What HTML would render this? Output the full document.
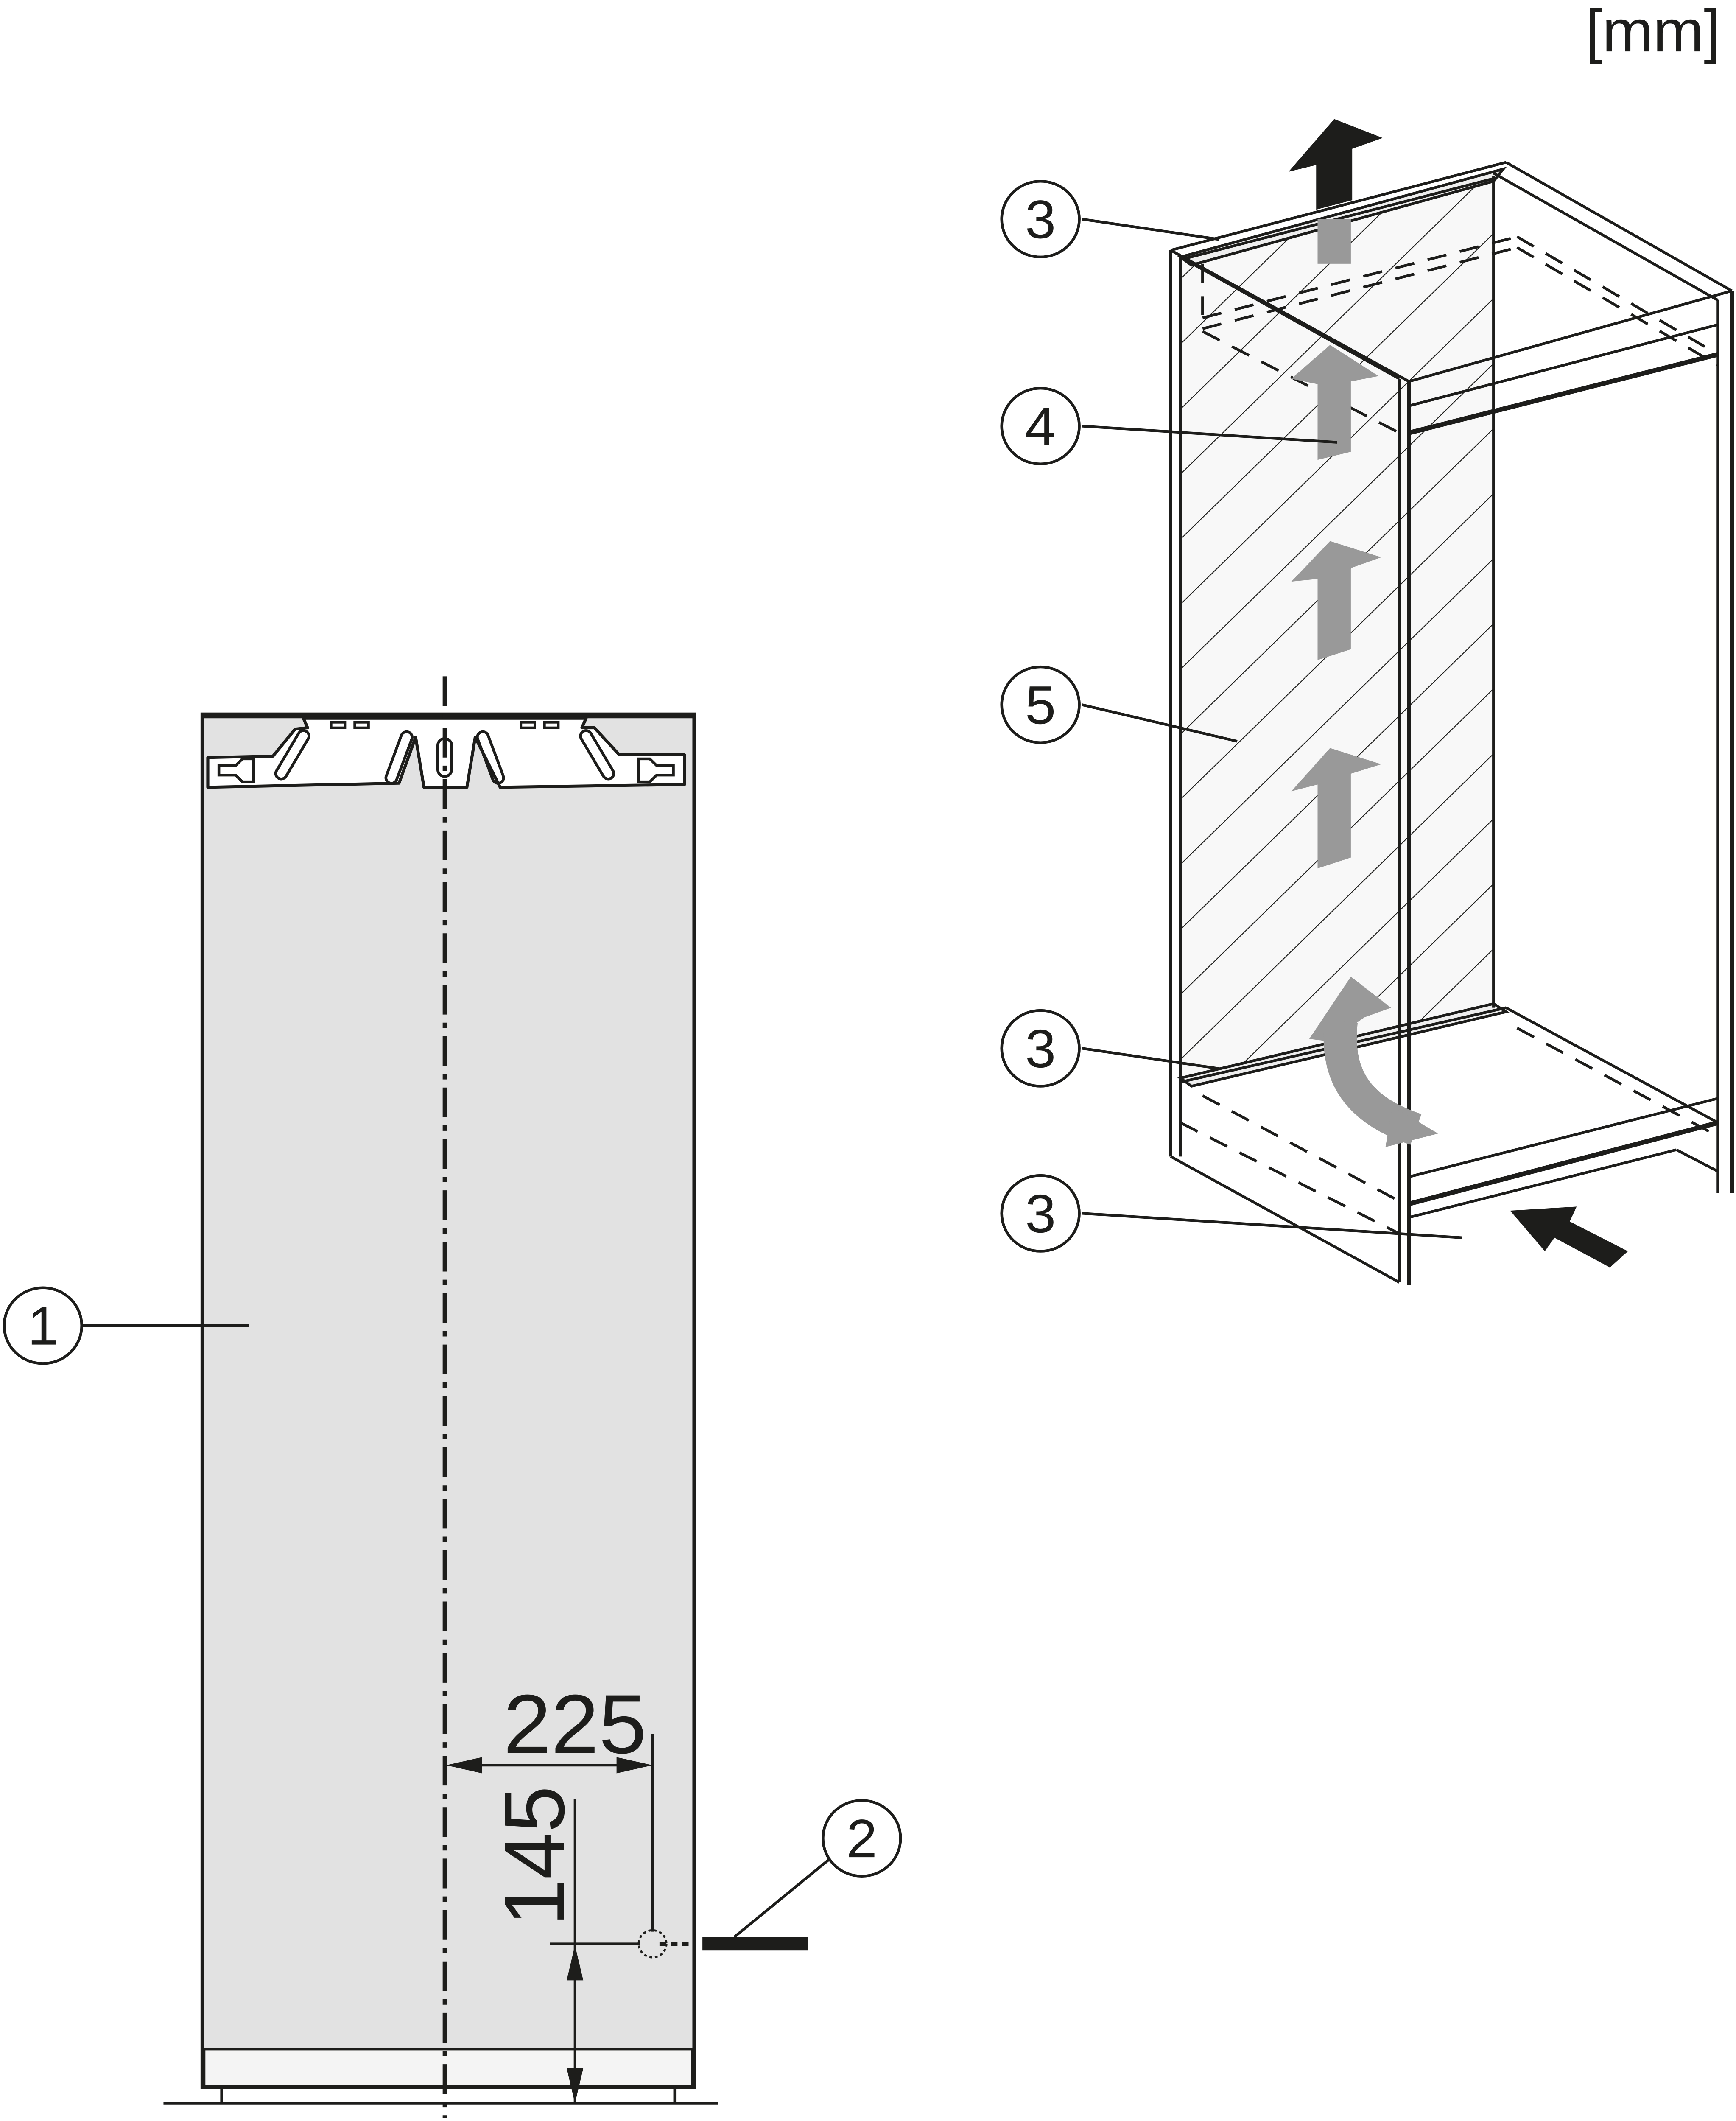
<!DOCTYPE html>
<html><head><meta charset="utf-8"><style>html,body{margin:0;padding:0;background:#fff;width:100vw;height:100vh;overflow:hidden}svg{display:block;position:absolute;left:0;top:0;width:100vw;height:100vh}</style></head><body>
<svg viewBox="0 0 1253 1568" preserveAspectRatio="none" xmlns="http://www.w3.org/2000/svg" font-family="Liberation Sans, sans-serif">
<defs>
<pattern id="h" patternUnits="userSpaceOnUse" width="34" height="34" patternTransform="rotate(45)">
<line x1="0" y1="0" x2="0" y2="34" stroke="#1d1d1b" stroke-width="1.3"/>
</pattern>
<clipPath id="hc"><polygon points="852,195 1078,130 1078,745 852,800"/></clipPath>
</defs>
<text x="1242" y="38" font-size="44" text-anchor="end" fill="#1d1d1b">[mm]</text>

<rect x="146" y="528" width="355" height="1015" fill="#e2e2e2" stroke="#1d1d1b" stroke-width="2.5"/>
<line x1="146" y1="529" x2="501" y2="529" stroke="#1d1d1b" stroke-width="4"/>
<rect x="147.5" y="1515" width="352" height="27" fill="#f4f4f4" stroke="#1d1d1b" stroke-width="1.5"/>
<line x1="118" y1="1555" x2="518" y2="1555" stroke="#1d1d1b" stroke-width="2"/>
<line x1="160" y1="1543" x2="160" y2="1555" stroke="#1d1d1b" stroke-width="2"/>
<line x1="487" y1="1543" x2="487" y2="1555" stroke="#1d1d1b" stroke-width="2"/>
<polygon points="150,560 197,559 213,539 222,538 219,531 423,531 420,538 429,538 447,558 494,558 494,580 361,582 343,545 337,582 306,582 300,545 288,579 150,582" fill="#fff" stroke="#1d1d1b" stroke-width="2.2" stroke-linejoin="round"/>
<path d="M158,566 h12 l5,-5 h8 v17 h-8 l-5,-5 h-12 z" fill="none" stroke="#1d1d1b" stroke-width="2"/>
<path d="M486,566 h-12 l-5,-5 h-8 v17 h8 l5,-5 h12 z" fill="none" stroke="#1d1d1b" stroke-width="2"/>
<rect x="207" y="538" width="8" height="40" rx="4" transform="rotate(30 211 558)" fill="none" stroke="#1d1d1b" stroke-width="2"/>
<rect x="284" y="540" width="8" height="40" rx="4" transform="rotate(20 288 560)" fill="none" stroke="#1d1d1b" stroke-width="2"/>
<rect x="350" y="540" width="8" height="40" rx="4" transform="rotate(-20 354 560)" fill="none" stroke="#1d1d1b" stroke-width="2"/>
<rect x="427" y="538" width="8" height="40" rx="4" transform="rotate(-30 431 558)" fill="none" stroke="#1d1d1b" stroke-width="2"/>
<rect x="316" y="546" width="10" height="28" rx="5" fill="none" stroke="#1d1d1b" stroke-width="2"/>
<rect x="239" y="534" width="10" height="4" fill="none" stroke="#1d1d1b" stroke-width="1.8"/>
<rect x="256" y="534" width="10" height="4" fill="none" stroke="#1d1d1b" stroke-width="1.8"/>
<rect x="376" y="534" width="10" height="4" fill="none" stroke="#1d1d1b" stroke-width="1.8"/>
<rect x="393" y="534" width="10" height="4" fill="none" stroke="#1d1d1b" stroke-width="1.8"/>
<line x1="321" y1="500" x2="321" y2="1566" stroke="#1d1d1b" stroke-width="3" stroke-dasharray="22,6,4,6"/>
<line x1="471" y1="1282" x2="471" y2="1428" stroke="#1d1d1b" stroke-width="1.8"/>
<line x1="330" y1="1305" x2="462" y2="1305" stroke="#1d1d1b" stroke-width="1.8"/>
<polygon points="322,1305 348,1299 348,1311" fill="#1d1d1b"/>
<polygon points="471,1305 445,1299 445,1311" fill="#1d1d1b"/>
<text x="415" y="1296" font-size="62" text-anchor="middle" fill="#1d1d1b">225</text>
<line x1="397" y1="1437" x2="462" y2="1437" stroke="#1d1d1b" stroke-width="1.8"/>
<line x1="415" y1="1330" x2="415" y2="1555" stroke="#1d1d1b" stroke-width="1.8"/>
<polygon points="415,1438 409,1464 421,1464" fill="#1d1d1b"/>
<polygon points="415,1555 409,1529 421,1529" fill="#1d1d1b"/>
<text transform="translate(407,1372) rotate(-90)" font-size="62" text-anchor="middle" fill="#1d1d1b">145</text>
<circle cx="471" cy="1437" r="10" fill="none" stroke="#1d1d1b" stroke-width="1.5" stroke-dasharray="2,2"/>
<line x1="476" y1="1437" x2="500" y2="1437" stroke="#1d1d1b" stroke-width="3" stroke-dasharray="5,3"/>
<rect x="507" y="1432" width="76" height="10" fill="#1d1d1b"/>
<line x1="598" y1="1375" x2="530" y2="1432" stroke="#1d1d1b" stroke-width="2"/>
<circle cx="622" cy="1359" r="28" fill="#fff" stroke="#1d1d1b" stroke-width="2"/>
<text x="622" y="1373" font-size="40" text-anchor="middle" fill="#1d1d1b">2</text>
<line x1="60" y1="980" x2="180" y2="980" stroke="#1d1d1b" stroke-width="2"/>
<circle cx="31" cy="980" r="28" fill="#fff" stroke="#1d1d1b" stroke-width="2"/>
<text x="31" y="994" font-size="40" text-anchor="middle" fill="#1d1d1b">1</text>

<g stroke="#1d1d1b" fill="none" stroke-width="2">
<polygon points="852,195 1078,130 1078,745 852,800" fill="#f8f8f8" stroke="none"/>
<rect x="840" y="100" width="260" height="720" fill="url(#h)" clip-path="url(#hc)" stroke="none"/>
<polygon points="852,190 1085,125 1078,134 860,196" fill="#eee"/>
<polygon points="852,797 1078,742 1087,748 860,803" fill="#eee"/>
<line x1="845" y1="185" x2="1087" y2="120"/>
<line x1="852" y1="192" x2="1078" y2="132"/>
<line x1="1087" y1="120" x2="1250" y2="215"/>
<line x1="1078" y1="128" x2="1240" y2="222"/>
<line x1="845" y1="185" x2="1017" y2="282"/>
<line x1="852" y1="190" x2="1010" y2="280"/>
<line x1="845" y1="185" x2="845" y2="855"/>
<line x1="852" y1="190" x2="852" y2="855"/>
<line x1="1078" y1="130" x2="1078" y2="745"/>
<line x1="1010" y1="280" x2="1010" y2="948"/>
<line x1="1017" y1="282" x2="1017" y2="950" stroke-width="3"/>
<line x1="1240" y1="222" x2="1240" y2="882"/>
<line x1="1250" y1="215" x2="1250" y2="882" stroke-width="3"/>
<line x1="1017" y1="282" x2="1250" y2="215"/>
<line x1="1017" y1="300" x2="1240" y2="240"/>
<line x1="1017" y1="320" x2="1240" y2="262" stroke-width="3.5"/>
<line x1="845" y1="855" x2="1010" y2="948"/>
<line x1="852" y1="800" x2="1087" y2="745"/>
<line x1="1087" y1="745" x2="1240" y2="830"/>
<line x1="1017" y1="870" x2="1240" y2="812"/>
<line x1="1017" y1="890" x2="1240" y2="830" stroke-width="3.5"/>
<line x1="1017" y1="900" x2="1210" y2="850"/>
<line x1="1210" y1="850" x2="1240" y2="866"/>
<g stroke-dasharray="14,10">
<line x1="868" y1="235" x2="1095" y2="175"/>
<line x1="868" y1="243" x2="1095" y2="183"/>
<line x1="1095" y1="175" x2="1240" y2="262"/>
<line x1="1095" y1="183" x2="1240" y2="270"/>
<line x1="868" y1="195" x2="868" y2="240"/>
<line x1="868" y1="245" x2="1010" y2="320"/>
<line x1="868" y1="810" x2="1010" y2="888"/>
<line x1="852" y1="830" x2="1010" y2="912"/>
<line x1="1095" y1="760" x2="1240" y2="840"/>
</g>
</g>
<g fill="#999">
<rect x="951" y="162" width="24" height="33"/>
<polygon points="951,300 951,340 975,334 975,282 995,278 960,255 932,280 951,284"/>
<polygon points="951,450 951,488 975,480 975,420 997,412 960,400 932,430 951,428"/>
<polygon points="951,600 951,642 975,634 975,572 997,565 960,553 932,585 951,580"/>
<polygon points="945,768 975,722 1004,745 985,752 960,770"/>
</g>
<path d="M1022,835 C985,822 963,800 968,755" fill="none" stroke="#999" stroke-width="24"/>
<polygon points="1005,818 1038,838 1000,848" fill="#999"/>
<polygon points="950,155 950,122 930,127 963,88 998,102 976,110 976,148" fill="#1d1d1b"/>
<polygon points="1090,895 1138,892 1133,903 1175,925 1162,937 1122,915 1115,925" fill="#1d1d1b"/>
<g stroke="#1d1d1b" stroke-width="2">
<line x1="781" y1="162" x2="880" y2="177"/>
<line x1="781" y1="315" x2="965" y2="327"/>
<line x1="781" y1="521" x2="893" y2="548"/>
<line x1="781" y1="775" x2="880" y2="790"/>
<line x1="781" y1="897" x2="1055" y2="915"/>
</g>
<g fill="#fff" stroke="#1d1d1b" stroke-width="2">
<circle cx="751" cy="162" r="28"/><circle cx="751" cy="315" r="28"/><circle cx="751" cy="521" r="28"/><circle cx="751" cy="775" r="28"/><circle cx="751" cy="897" r="28"/>
</g>
<g font-size="40" text-anchor="middle" fill="#1d1d1b">
<text x="751" y="176">3</text><text x="751" y="329">4</text><text x="751" y="535">5</text><text x="751" y="789">3</text><text x="751" y="911">3</text>
</g>
</svg>
</body></html>
